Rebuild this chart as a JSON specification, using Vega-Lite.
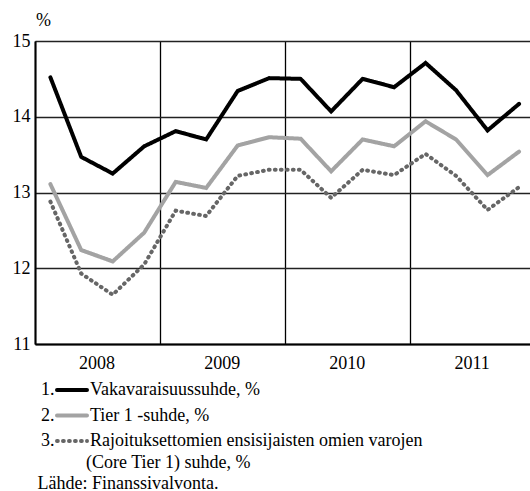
{
  "$schema": "https://vega.github.io/schema/vega-lite/v6.json",
  "width": 495,
  "height": 303,
  "autosize": {"type": "none"},
  "padding": {"left": 35, "top": 41, "right": 0, "bottom": 147},
  "config": {
    "view": {"stroke": null},
    "font": "Liberation Serif",
    "axis": {"labelFont": "Liberation Serif", "labelFontSize": 18, "labelColor": "#000", "titleFont": "Liberation Serif", "titleFontWeight": "normal", "titleColor": "#000", "titleFontSize": 18},
    "legend": {"labelFont": "Liberation Serif", "labelFontSize": 18, "labelColor": "#000", "labelLimit": 0, "titleFont": "Liberation Serif", "titleFontWeight": "normal", "titleFontSize": 18, "titleColor": "#000", "titleLimit": 0}
  },
  "data": {
    "values": [
      {"date": "2008-02-15", "series": "Vakavaraisuussuhde, %", "num": "1.", "value": 14.52},
      {"date": "2008-05-15", "series": "Vakavaraisuussuhde, %", "num": "1.", "value": 13.47},
      {"date": "2008-08-15", "series": "Vakavaraisuussuhde, %", "num": "1.", "value": 13.25},
      {"date": "2008-11-15", "series": "Vakavaraisuussuhde, %", "num": "1.", "value": 13.61},
      {"date": "2009-02-15", "series": "Vakavaraisuussuhde, %", "num": "1.", "value": 13.81},
      {"date": "2009-05-15", "series": "Vakavaraisuussuhde, %", "num": "1.", "value": 13.70},
      {"date": "2009-08-15", "series": "Vakavaraisuussuhde, %", "num": "1.", "value": 14.34},
      {"date": "2009-11-15", "series": "Vakavaraisuussuhde, %", "num": "1.", "value": 14.51},
      {"date": "2010-02-15", "series": "Vakavaraisuussuhde, %", "num": "1.", "value": 14.50},
      {"date": "2010-05-15", "series": "Vakavaraisuussuhde, %", "num": "1.", "value": 14.07},
      {"date": "2010-08-15", "series": "Vakavaraisuussuhde, %", "num": "1.", "value": 14.50},
      {"date": "2010-11-15", "series": "Vakavaraisuussuhde, %", "num": "1.", "value": 14.39},
      {"date": "2011-02-15", "series": "Vakavaraisuussuhde, %", "num": "1.", "value": 14.71},
      {"date": "2011-05-15", "series": "Vakavaraisuussuhde, %", "num": "1.", "value": 14.35},
      {"date": "2011-08-15", "series": "Vakavaraisuussuhde, %", "num": "1.", "value": 13.82},
      {"date": "2011-11-15", "series": "Vakavaraisuussuhde, %", "num": "1.", "value": 14.17},
      {"date": "2008-02-15", "series": "Tier 1 -suhde, %", "num": "2.", "value": 13.11},
      {"date": "2008-05-15", "series": "Tier 1 -suhde, %", "num": "2.", "value": 12.24},
      {"date": "2008-08-15", "series": "Tier 1 -suhde, %", "num": "2.", "value": 12.09},
      {"date": "2008-11-15", "series": "Tier 1 -suhde, %", "num": "2.", "value": 12.47},
      {"date": "2009-02-15", "series": "Tier 1 -suhde, %", "num": "2.", "value": 13.14},
      {"date": "2009-05-15", "series": "Tier 1 -suhde, %", "num": "2.", "value": 13.06},
      {"date": "2009-08-15", "series": "Tier 1 -suhde, %", "num": "2.", "value": 13.62},
      {"date": "2009-11-15", "series": "Tier 1 -suhde, %", "num": "2.", "value": 13.73},
      {"date": "2010-02-15", "series": "Tier 1 -suhde, %", "num": "2.", "value": 13.71},
      {"date": "2010-05-15", "series": "Tier 1 -suhde, %", "num": "2.", "value": 13.28},
      {"date": "2010-08-15", "series": "Tier 1 -suhde, %", "num": "2.", "value": 13.70},
      {"date": "2010-11-15", "series": "Tier 1 -suhde, %", "num": "2.", "value": 13.61},
      {"date": "2011-02-15", "series": "Tier 1 -suhde, %", "num": "2.", "value": 13.94},
      {"date": "2011-05-15", "series": "Tier 1 -suhde, %", "num": "2.", "value": 13.70},
      {"date": "2011-08-15", "series": "Tier 1 -suhde, %", "num": "2.", "value": 13.23},
      {"date": "2011-11-15", "series": "Tier 1 -suhde, %", "num": "2.", "value": 13.54},
      {"date": "2008-02-15", "series": "Rajoituksettomien ensisijaisten omien varojen", "num": "3.", "value": 12.88},
      {"date": "2008-05-15", "series": "Rajoituksettomien ensisijaisten omien varojen", "num": "3.", "value": 11.93},
      {"date": "2008-08-15", "series": "Rajoituksettomien ensisijaisten omien varojen", "num": "3.", "value": 11.65},
      {"date": "2008-11-15", "series": "Rajoituksettomien ensisijaisten omien varojen", "num": "3.", "value": 12.05},
      {"date": "2009-02-15", "series": "Rajoituksettomien ensisijaisten omien varojen", "num": "3.", "value": 12.76},
      {"date": "2009-05-15", "series": "Rajoituksettomien ensisijaisten omien varojen", "num": "3.", "value": 12.69},
      {"date": "2009-08-15", "series": "Rajoituksettomien ensisijaisten omien varojen", "num": "3.", "value": 13.22},
      {"date": "2009-11-15", "series": "Rajoituksettomien ensisijaisten omien varojen", "num": "3.", "value": 13.30},
      {"date": "2010-02-15", "series": "Rajoituksettomien ensisijaisten omien varojen", "num": "3.", "value": 13.30},
      {"date": "2010-05-15", "series": "Rajoituksettomien ensisijaisten omien varojen", "num": "3.", "value": 12.93},
      {"date": "2010-08-15", "series": "Rajoituksettomien ensisijaisten omien varojen", "num": "3.", "value": 13.30},
      {"date": "2010-11-15", "series": "Rajoituksettomien ensisijaisten omien varojen", "num": "3.", "value": 13.23},
      {"date": "2011-02-15", "series": "Rajoituksettomien ensisijaisten omien varojen", "num": "3.", "value": 13.51},
      {"date": "2011-05-15", "series": "Rajoituksettomien ensisijaisten omien varojen", "num": "3.", "value": 13.22},
      {"date": "2011-08-15", "series": "Rajoituksettomien ensisijaisten omien varojen", "num": "3.", "value": 12.77},
      {"date": "2011-11-15", "series": "Rajoituksettomien ensisijaisten omien varojen", "num": "3.", "value": 13.07}
    ]
  },
  "mark": {"type": "line", "strokeWidth": 4, "strokeCap": "round", "strokeJoin": "miter"},
  "encoding": {
    "x": {
      "field": "date", "type": "temporal",
      "scale": {"type": "utc", "domain": [{"year": 2008, "month": 1, "date": 1, "utc": true}, {"year": 2011, "month": 12, "date": 17, "utc": true}], "nice": false},
      "axis": {
        "values": [{"year": 2008, "month": 1, "date": 1, "utc": true}, {"year": 2009, "month": 1, "date": 1, "utc": true}, {"year": 2010, "month": 1, "date": 1, "utc": true}, {"year": 2011, "month": 1, "date": 1, "utc": true}],
        "labelExpr": "utcFormat(datum.value, '%Y')",
        "labelOffset": 61.5, "labelPadding": 10, "labelFlush": false, "labelOverlap": false,
        "grid": true, "gridColor": "#000", "gridWidth": 1.3, "gridOpacity": 1,
        "domain": true, "domainColor": "#000", "domainWidth": 2,
        "ticks": false,
        "title": "Lähde: Finanssivalvonta.", "titleX": 2, "titleY": 144, "titleAlign": "left", "titleBaseline": "alphabetic", "titleAnchor": "start"
      }
    },
    "y": {
      "field": "value", "type": "quantitative",
      "scale": {"domain": [11, 15], "nice": false, "zero": false},
      "axis": {
        "values": [11, 12, 13, 14, 15],
        "grid": true, "gridColor": "#222", "gridWidth": 1.3, "gridOpacity": 1,
        "domain": true, "domainColor": "#000", "domainWidth": 2,
        "ticks": false, "labelPadding": 5,
        "title": "%", "titleAngle": 0, "titleX": 8, "titleY": -21, "titleAlign": "center", "titleBaseline": "middle"
      }
    },
    "stroke": {
      "field": "series", "type": "nominal",
      "scale": {"domain": ["Vakavaraisuussuhde, %", "Tier 1 -suhde, %", "Rajoituksettomien ensisijaisten omien varojen"], "range": ["#000000", "#a3a3a3", "#666666"]},
      "legend": {
        "orient": "none", "legendX": 23, "legendY": 335, "direction": "vertical",
        "title": "(Core Tier 1) suhde, %", "titleOrient": "bottom", "titleAnchor": "start", "titlePadding": 4,
        "symbolType": "M-1.25,0H1.25", "symbolSize": 576, "symbolStrokeWidth": 4,
        "labelOffset": 4, "rowPadding": 2.5,
        "encode": {"title": {"update": {"dx": {"value": 28}}}, "symbols": {"update": {"strokeCap": {"value": "round"}}}}
      }
    },
    "strokeDash": {
      "field": "series", "type": "nominal",
      "scale": {"domain": ["Vakavaraisuussuhde, %", "Tier 1 -suhde, %", "Rajoituksettomien ensisijaisten omien varojen"], "range": [[1, 0], [1, 0], [0.8, 5.2]]}
    },
    "opacity": {
      "field": "num", "type": "nominal",
      "scale": {"type": "ordinal", "domain": ["1.", "2.", "3."], "range": [1, 1, 1]},
      "legend": {
        "orient": "none", "legendX": -22, "legendY": 335, "direction": "vertical", "title": null,
        "symbolType": "M-1.25,0H1.25", "symbolSize": 576, "symbolStrokeWidth": 4, "symbolStrokeColor": "transparent",
        "labelOffset": 0, "rowPadding": 2.5,
        "encode": {"symbols": {"update": {"stroke": {"value": "transparent"}, "opacity": {"value": 0}, "strokeOpacity": {"value": 0}}}}
      }
    }
  }
}
